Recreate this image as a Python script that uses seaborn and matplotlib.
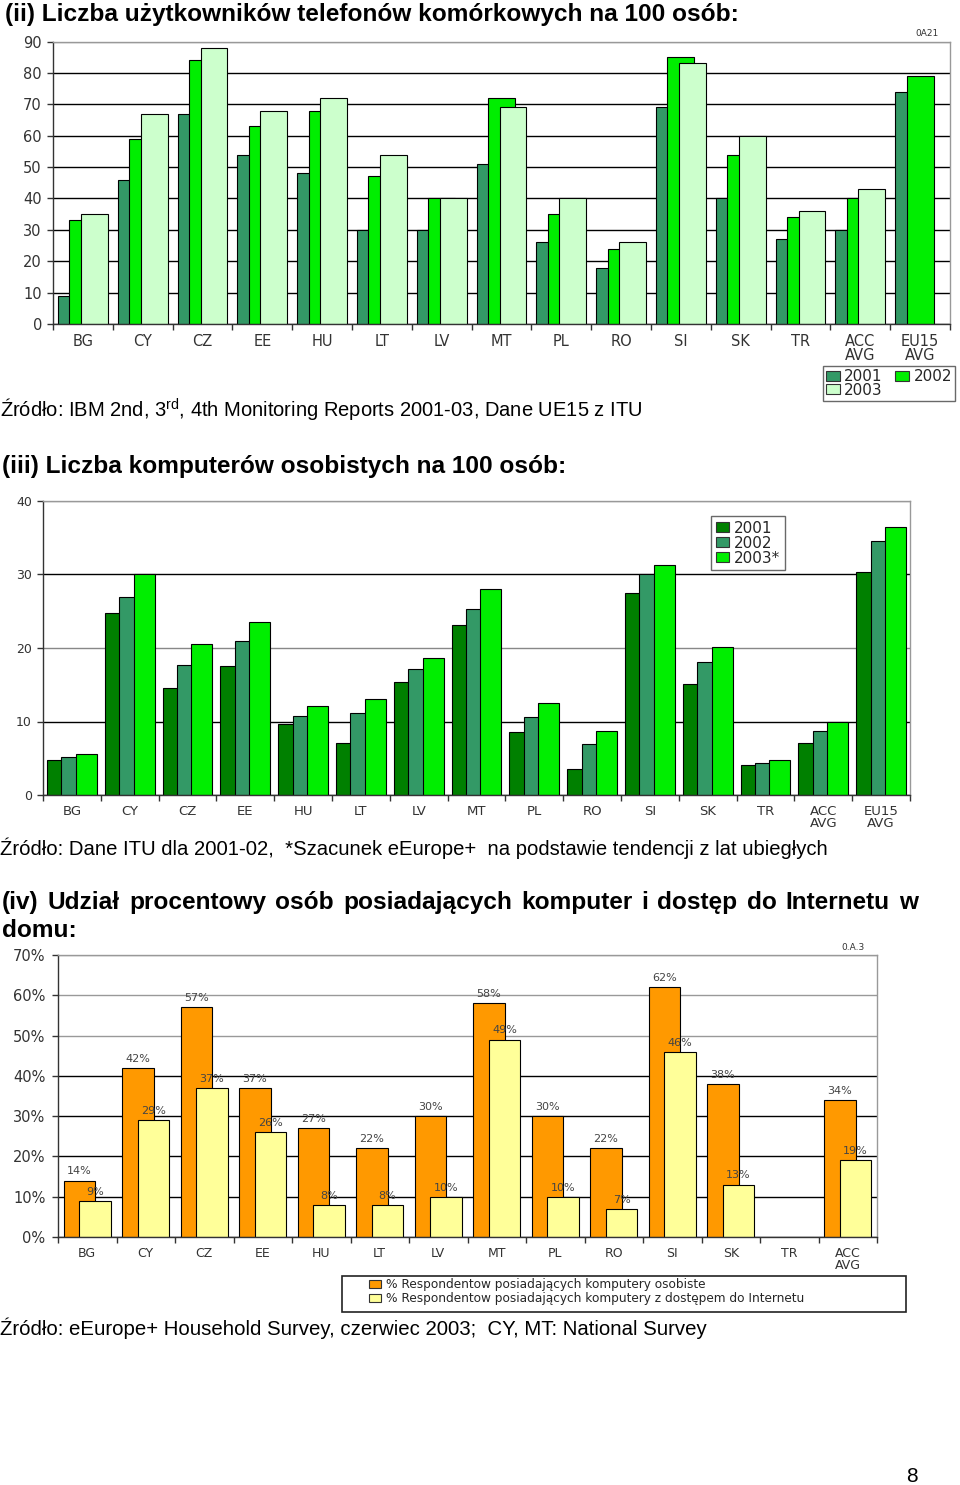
import numpy as np
import pandas as pd
import matplotlib
matplotlib.use("Agg")
import matplotlib.pyplot as plt
import seaborn as sns
from matplotlib import font_manager as fm
from matplotlib.patches import Patch, Rectangle

# ---------------- data ----------------
countries = ['BG', 'CY', 'CZ', 'EE', 'HU', 'LT', 'LV', 'MT', 'PL', 'RO', 'SI', 'SK', 'TR',
             'ACC\nAVG', 'EU15\nAVG']

mobile_years = ['2001', '2002', '2003']
mobile_2001 = [9, 46, 67, 54, 48, 30, 30, 51, 26, 18, 69, 40, 27, 30, 74]
mobile_2002 = [33, 59, 84, 63, 68, 47, 40, 72, 35, 24, 85, 54, 34, 40, 79]
mobile_2003 = [35, 67, 88, 68, 72, 54, 40, 69, 40, 26, 83, 60, 36, 43, np.nan]

pc_years = ['2001', '2002', '2003*']
pc_2001 = [4.7, 24.8, 14.6, 17.6, 9.6, 7.1, 15.4, 23.1, 8.6, 3.6, 27.5, 15.1, 4.1, 7.1, 30.3]
pc_2002 = [5.2, 27.0, 17.7, 21.0, 10.8, 11.1, 17.1, 25.3, 10.6, 6.9, 30.0, 18.1, 4.4, 8.7, 34.5]
pc_2003 = [5.6, 30.0, 20.6, 23.5, 12.1, 13.1, 18.6, 28.0, 12.5, 8.7, 31.3, 20.2, 4.7, 9.9, 36.5]

hh_countries = countries[:14]
hh_series = ['% Respondentow posiadających komputery osobiste',
             '% Respondentow posiadających komputery z dostępem do Internetu']
hh_pc = [14, 42, 57, 37, 27, 22, 30, 58, 30, 22, 62, 38, np.nan, 34]
hh_internet = [9, 29, 37, 26, 8, 8, 10, 49, 10, 7, 46, 13, np.nan, 19]

mobile_ticks = list(range(0, 91, 10))
pc_ticks = list(range(0, 41, 10))
hh_ticks = list(range(0, 71, 10))

# ---------------- style ----------------
sns.set_theme(style="white")
avail = {f.name for f in fm.fontManager.ttflist}
NARROW = 'Liberation Sans Narrow' if 'Liberation Sans Narrow' in avail else 'Liberation Sans'
plt.rcParams['font.family'] = ['DejaVu Sans']
plt.rcParams['mathtext.fontset'] = 'custom'
plt.rcParams['mathtext.rm'] = NARROW

W, H = 960, 1485
fig = plt.figure(figsize=(W / 100, H / 100), dpi=100)
fig.patch.set_facecolor('white')
renderer = fig.canvas.get_renderer()


def px_axes(left, top, right, bottom):
    return fig.add_axes([left / W, 1 - bottom / H, (right - left) / W, (bottom - top) / H])


def long_df(cats, labels, series):
    frames = [pd.DataFrame({'country': cats, 'series': lab, 'value': vals})
              for lab, vals in zip(labels, series)]
    return pd.concat(frames, ignore_index=True).dropna()


def bar_chart(ax, cats, labels, series, colors, width, gap, ticks, grid_colors,
              ylab_size, xlab_size, ypad, xpad, yfmt=None):
    df = long_df(cats, labels, series)
    sns.barplot(data=df, x='country', y='value', hue='series', order=cats,
                hue_order=labels, palette=colors, saturation=1, width=width,
                gap=gap, edgecolor='black', linewidth=0.8, errorbar=None,
                legend=False, ax=ax)
    n = len(cats)
    ax.set_xlim(-0.5, n - 0.5)
    ax.set_ylim(ticks[0], ticks[-1])
    ax.set_yticks(ticks)
    if yfmt:
        ax.set_yticklabels([yfmt % t for t in ticks])
    ax.set_xticks(np.arange(-0.5, n, 1), minor=True)
    ax.tick_params(axis='x', which='major', length=0, pad=xpad, labelsize=xlab_size,
                   labelcolor='#333333', bottom=False)
    ax.tick_params(axis='x', which='minor', length=4, width=1, color='#333333',
                   direction='out', bottom=True)
    ax.tick_params(axis='y', length=4, width=1, color='#333333', direction='out',
                   left=True, pad=ypad, labelsize=ylab_size, labelcolor='#333333')
    for lab in ax.get_xticklabels():
        lab.set_linespacing(0.95)
    ax.set_xlabel('')
    ax.set_ylabel('')
    ax.yaxis.grid(True, linewidth=1.0)
    for gl, c in zip(ax.get_ygridlines(), grid_colors):
        gl.set_color(c)
    ax.set_axisbelow(True)
    for s in ['top', 'right']:
        ax.spines[s].set_color('#999999')
        ax.spines[s].set_linewidth(1.0)
    for s in ['left', 'bottom']:
        ax.spines[s].set_color('#333333')
        ax.spines[s].set_linewidth(1.0)
    return ax


def fit_text(xpx, ypx, s, wpx, size0, **kw):
    t = fig.text(xpx / W, 1 - ypx / H, s, fontsize=size0, va='baseline', ha='left', **kw)
    w = t.get_window_extent(renderer).width
    t.set_fontsize(size0 * wpx / w)
    return t


# ---------------- chart (ii) mobile ----------------
ax1 = px_axes(53, 41.5, 950, 324)
mob_colors = ['#339966', '#00EE00', '#CCFFCC']
bar_chart(ax1, countries, mobile_years, [mobile_2001, mobile_2002, mobile_2003],
          mob_colors, width=0.577, gap=-1.34, ticks=mobile_ticks,
          grid_colors=['black'] * 9 + ['#999999'], ylab_size=10.5, xlab_size=10.5,
          ypad=4, xpad=7)
h = [Patch(facecolor=c, edgecolor='#333333', linewidth=0.8) for c in mob_colors]
ax1.legend(handles=[h[0], h[2], h[1]], labels=['2001', '2003', '2002'], ncol=2,
           loc='upper right', bbox_to_anchor=(955 / W, 1 - 366 / H),
           bbox_transform=fig.transFigure, frameon=True, fancybox=False,
           edgecolor='#444444', fontsize=11, handlelength=0.9, handleheight=0.6,
           handletextpad=0.3, columnspacing=0.8, labelspacing=-0.1, borderpad=0.2,
           borderaxespad=0)
fig.text(927 / W, 1 - 33 / H, '0A21', fontsize=6.5, ha='center', va='center', color='#333333')

# ---------------- chart (iii) PCs ----------------
ax2 = px_axes(43, 501, 910, 795)
pc_colors = ['#008000', '#339966', '#00EE00']
bar_chart(ax2, countries, pc_years, [pc_2001, pc_2002, pc_2003], pc_colors,
          width=0.75, gap=-0.45, ticks=pc_ticks,
          grid_colors=['black', 'black', '#888888', 'black', '#999999'],
          ylab_size=9, xlab_size=9.5, ypad=4, xpad=7)
h2 = [Patch(facecolor=c, edgecolor='#333333', linewidth=0.8) for c in pc_colors]
ax2.legend(handles=h2, labels=pc_years, loc='upper left',
           bbox_to_anchor=(711 / W, 1 - 516 / H), bbox_transform=fig.transFigure,
           frameon=True, fancybox=False, edgecolor='#444444', fontsize=11,
           handlelength=0.9, handleheight=0.6, handletextpad=0.3, labelspacing=0.0,
           borderpad=0.3, borderaxespad=0)

# ---------------- chart (iv) households ----------------
ax3 = px_axes(58, 955, 877, 1237)
hh_colors = ['#FF9900', '#FFFF99']
bar_chart(ax3, hh_countries, hh_series, [hh_pc, hh_internet], hh_colors,
          width=0.53, gap=-1.06, ticks=hh_ticks,
          grid_colors=['black'] * 5 + ['#999999'] * 3,
          ylab_size=10.5, xlab_size=9, ypad=5, xpad=7, yfmt='%d%%')
for cont in ax3.containers:
    ax3.bar_label(cont, labels=['%d%%' % v for v in cont.datavalues], padding=3,
                  fontsize=8, color='#444444')
fig.add_artist(Rectangle((342 / W, 1 - 1312 / H), (906 - 342) / W, 36 / H,
                         transform=fig.transFigure, fill=False, edgecolor='#222222',
                         linewidth=1.2))
h3 = [Patch(facecolor=c, edgecolor='#333333', linewidth=0.8) for c in hh_colors]
fig.legend(handles=h3, labels=hh_series, loc='upper left',
           bbox_to_anchor=(368 / W, 1 - 1277 / H), bbox_transform=fig.transFigure,
           frameon=False, fontsize=8.7, handlelength=1.0, handleheight=0.7,
           handletextpad=0.4, labelspacing=0.1, borderpad=0.1, borderaxespad=0)
fig.text(853 / W, 1 - 948 / H, '0.A.3', fontsize=6.5, ha='center', va='center', color='#333333')

# ---------------- page texts ----------------
t_title = fit_text(5, 21, '(ii) Liczba użytkowników telefonów komórkowych na 100 osób:',
                   732, 18, family=NARROW, fontweight='bold', color='black')
title_fs = t_title.get_fontsize()
fit_text(0, 418, 'Źródło: IBM 2nd, 3$^{\\rm rd}$, 4th Monitoring Reports 2001-03, Dane UE15 z ITU',
         645, 15, family=NARROW, color='black')
fig.text(2 / W, 1 - 473 / H, '(iii) Liczba komputerów osobistych na 100 osób:',
         fontsize=title_fs, family=NARROW, fontweight='bold', va='baseline', color='black')
fit_text(0, 855, 'Źródło: Dane ITU dla 2001-02,  *Szacunek eEurope+  na podstawie tendencji z lat ubiegłych',
         828, 15, family=NARROW, color='black')

# justified first line of title (iv)
line1 = '(iv) Udział procentowy osób posiadających komputer i dostęp do Internetu w'.split()
words = [fig.text(0, 1 - 909 / H, w, fontsize=title_fs, family=NARROW, fontweight='bold',
                  va='baseline', ha='left', color='black') for w in line1]
widths = [t.get_window_extent(renderer).width for t in words]
gapw = (918 - 2 - sum(widths)) / (len(words) - 1)
xcur = 2
for t, wd in zip(words, widths):
    t.set_x(xcur / W)
    xcur += wd + gapw
fig.text(2 / W, 1 - 937 / H, 'domu:', fontsize=title_fs, family=NARROW, fontweight='bold',
         va='baseline', color='black')
fit_text(0, 1335, 'Źródło: eEurope+ Household Survey, czerwiec 2003;  CY, MT: National Survey',
         709, 15, family=NARROW, color='black')
fig.text(912 / W, 1 - 1482 / H, '8', fontsize=15, family='Liberation Sans', ha='center',
         va='baseline', color='black')

fig.savefig('out.png', dpi=100, facecolor='white')
